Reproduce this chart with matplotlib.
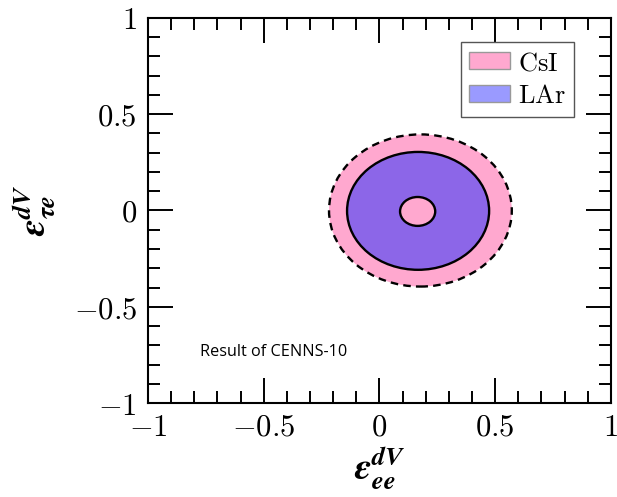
import numpy as np
import matplotlib
matplotlib.use("Agg")
import matplotlib.pyplot as plt
from matplotlib.patches import Ellipse, Patch
from matplotlib.ticker import MultipleLocator

plt.rcParams['mathtext.fontset'] = 'cm'

# allowed regions (ellipse centre, full width, full height)
csi_center = (0.177, 0.0)
csi_size = (0.79, 0.79)
lar_center = (0.167, -0.002)
lar_size = (0.614, 0.612)
hole_center = (0.165, -0.005)
hole_size = (0.152, 0.15)

ticks = [-1, -0.5, 0, 0.5, 1]
tick_labels = [r'$-1$', r'$-0.5$', r'$0$', r'$0.5$', r'$1$']

pink = '#ffa8cf'
purple = '#8c66e8'
lar_legend = '#9a9aff'

fig = plt.figure(figsize=(6.17, 4.97), dpi=100)
ax = fig.add_axes([0.240, 0.189, 0.750, 0.775])

ax.add_patch(Ellipse(csi_center, *csi_size, facecolor=pink, edgecolor='black',
                     linestyle=(0, (3.2, 2.2)), linewidth=1.7, zorder=2))
ax.add_patch(Ellipse(lar_center, *lar_size, facecolor=purple, edgecolor='black',
                     linewidth=1.7, zorder=3))
ax.add_patch(Ellipse(hole_center, *hole_size, facecolor=pink, edgecolor='black',
                     linewidth=1.7, zorder=4))

ax.set_xlim(-1, 1)
ax.set_ylim(-1, 1)
ax.set_xticks(ticks)
ax.set_xticklabels(tick_labels)
ax.set_yticks(ticks)
ax.set_yticklabels(tick_labels)
ax.xaxis.set_minor_locator(MultipleLocator(0.1))
ax.yaxis.set_minor_locator(MultipleLocator(0.1))
ax.tick_params(which='both', direction='in', top=True, right=True, labelsize=22, width=1.4)
ax.tick_params(which='major', length=18)
ax.tick_params(which='minor', length=8.5)
ax.tick_params(axis='x', which='major', pad=7)
ax.tick_params(axis='y', which='major', pad=8)
for s in ax.spines.values():
    s.set_linewidth(1.5)

ax.set_xlabel(r'$\mathbfit{\varepsilon}^{\mathbfit{dV}}_{\mathbfit{ee}}$', fontsize=27,
              labelpad=2, math_fontfamily='stix')
ax.set_ylabel(r'$\mathbfit{\varepsilon}^{\mathbfit{dV}}_{\mathbfit{\tau e}}$', fontsize=27,
              labelpad=12, math_fontfamily='stix')

ax.text(-0.775, -0.735, 'Result of CENNS-10', fontsize=11.7, family='Open Sans',
        ha='left', va='center')

handles = [Patch(facecolor=pink, edgecolor='#999999', label=r'$\mathrm{CsI}$'),
           Patch(facecolor=lar_legend, edgecolor='#999999', label=r'$\mathrm{LAr}$')]
leg = ax.legend(handles=handles, loc='upper right', bbox_to_anchor=(0.92, 0.937),
                fontsize=19, fancybox=False, edgecolor='#555555', framealpha=1,
                handlelength=1.55, handleheight=0.6, borderpad=0.3, labelspacing=0.25,
                handletextpad=0.3, borderaxespad=0)
leg.get_frame().set_linewidth(1.0)

fig.savefig('out.png', dpi=100)
